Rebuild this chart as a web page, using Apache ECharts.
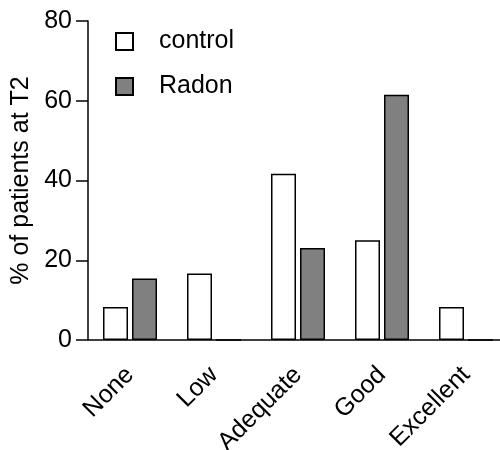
<!DOCTYPE html>
<html><head><meta charset="utf-8">
<script src="https://cdn.jsdelivr.net/npm/echarts@6/dist/echarts.min.js"></script>
<style>html,body{margin:0;padding:0;background:#fff}#c{width:500px;height:450px}</style>
</head><body><div id="c"></div>
<script>
const categories = ['None', 'Low', 'Adequate', 'Good', 'Excellent'];
const controlValues = [8.3, 16.7, 41.7, 25.0, 8.3];
const radonValues = [15.4, 0, 23.1, 61.5, 0];
const yTicks = [0, 20, 40, 60, 80];

const font = 'Arial, "Liberation Sans", sans-serif';
const fs = 25;
const chart = echarts.init(document.getElementById('c'), null, {renderer: 'canvas'});
chart.setOption({
  animation: false,
  backgroundColor: '#fff',
  grid: {left: 88, right: -8, top: 21, bottom: 110, containLabel: false, outerBoundsMode: 'none'},
  legend: {
    orient: 'vertical', left: 115, top: 29, padding: 0, itemWidth: 17, itemHeight: 17, itemGap: 20,
    icon: 'rect',
    textStyle: {fontFamily: font, fontSize: fs, color: '#000', padding: [0, 0, 0, 21]},
    data: ['control', 'Radon']
  },
  xAxis: {
    type: 'category', data: categories,
    axisLine: {lineStyle: {color: '#000', width: 1.5}},
    axisTick: {alignWithLabel: true, length: 12, lineStyle: {color: '#000', width: 1.5}},
    axisLabel: {rotate: 45, margin: 31, fontFamily: font, fontSize: fs, color: '#000', interval: 0}
  },
  yAxis: {
    type: 'value', min: yTicks[0], max: yTicks[yTicks.length - 1], interval: 20,
    name: '% of patients at T2', nameLocation: 'middle', nameGap: 49,
    nameTextStyle: {fontFamily: font, fontSize: fs, color: '#000'},
    axisLine: {show: true, lineStyle: {color: '#000', width: 1.5}},
    axisTick: {show: true, length: 12, lineStyle: {color: '#000', width: 1.5}},
    axisLabel: {margin: 16, fontFamily: font, fontSize: fs, color: '#000'},
    splitLine: {show: false}
  },
  series: [
    {name: 'control', type: 'bar', data: controlValues, barWidth: 25, barGap: '16%',
     itemStyle: {color: '#fff', borderColor: '#000', borderWidth: 1.5}},
    {name: 'Radon', type: 'bar', data: radonValues, barWidth: 25,
     itemStyle: {color: '#808080', borderColor: '#000', borderWidth: 1.5}}
  ]
});
</script></body></html>
